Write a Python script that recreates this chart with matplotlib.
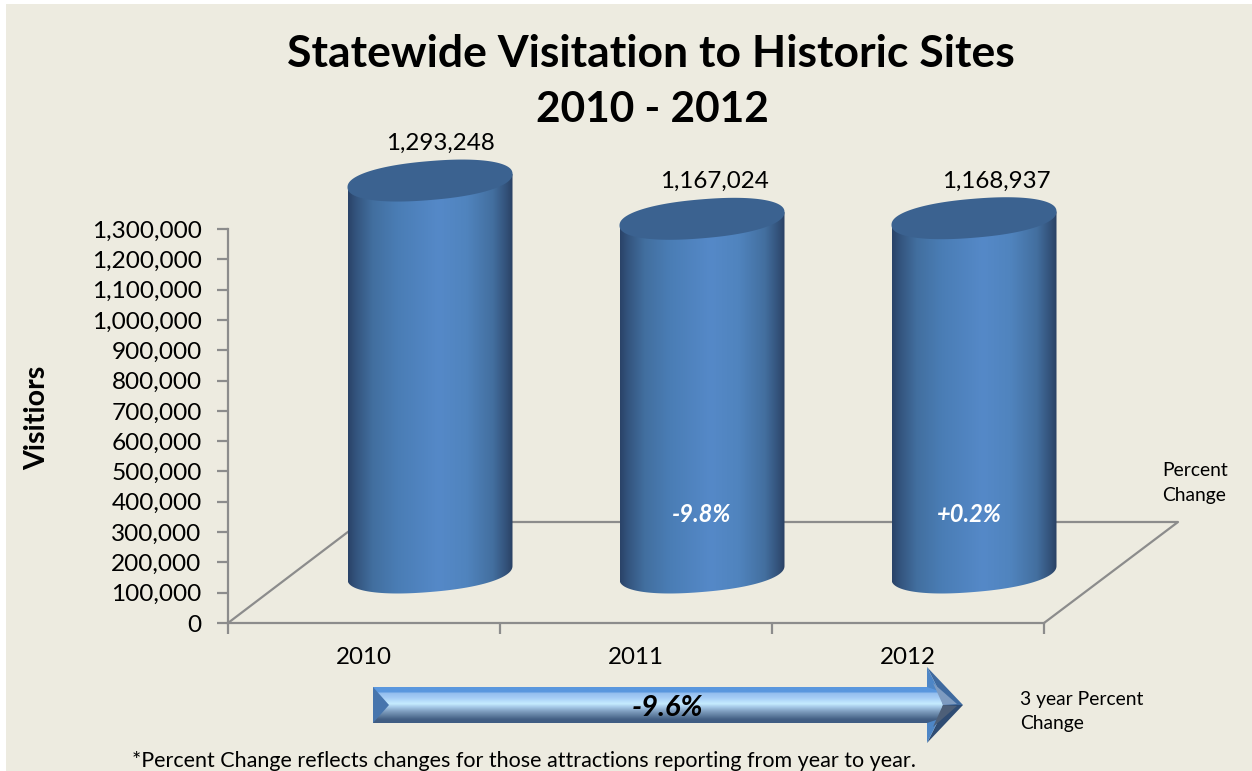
#!/usr/bin/env python3
"""Statewide visitation to historic sites, drawn as 3D-looking cylinders."""

import matplotlib
matplotlib.use('Agg')
import matplotlib.pyplot as plt
import numpy as np
from matplotlib.colors import LinearSegmentedColormap
from matplotlib.patches import Polygon, Rectangle

years = ['2010', '2011', '2012']
visitors = [1293248, 1167024, 1168937]
value_labels = ['1,293,248', '1,167,024', '1,168,937']
percent_change = [None, '-9.8%', '+0.2%']
y_ticks = list(range(0, 1300001, 100000))
three_year_change = '-9.6%'

W, H = 1252, 771
PANEL = '#EDEBE0'
AXIS_GREY = '#8C8C8C'
FONT = 'Lato'

plt.rcParams['font.family'] = [FONT, 'DejaVu Sans']

fig = plt.figure(figsize=(W / 100, H / 100), dpi=100, facecolor='white')

# overlay in pixel units for the panel, notes and the arrow
bg = fig.add_axes([0, 0, 1, 1], zorder=0)
bg.set_xlim(0, W)
bg.set_ylim(H, 0)
bg.axis('off')
bg.add_patch(Rectangle((6, 4), W - 6, H - 4, facecolor=PANEL, edgecolor='none'))

# plot area: 228..1044 px wide, 229..623 px tall
ax = fig.add_axes([228 / W, 1 - 623 / H, 816 / W, 394 / H], zorder=1)
ax.set_xlim(-0.5, 2.5)
ax.set_ylim(0, 1300000)
ax.patch.set_alpha(0)
for side in ['top', 'right']:
    ax.spines[side].set_visible(False)
for side in ['left', 'bottom']:
    ax.spines[side].set_color(AXIS_GREY)
    ax.spines[side].set_linewidth(1.6)

ax.set_yticks(y_ticks)
ax.set_yticklabels([f'{v:,}' for v in y_ticks], fontsize=17.6)
ax.set_xticks([-0.5, 0.5, 1.5, 2.5])
ax.set_xticklabels([])
ax.tick_params(axis='both', color=AXIS_GREY, width=1.6, length=8, pad=12)
ax.tick_params(axis='y', pad=11)

px_x = 3 / 816          # category units per pixel
px_y = 1300000 / 394    # visitors per pixel

# floor drawn behind the cylinders
ax.plot([-0.5, -0.5 + 133 * px_x, 2.5 + 134 * px_x, 2.5],
        [0, 101 * px_y, 101 * px_y, 0],
        color=AXIS_GREY, lw=1.6, clip_on=False, zorder=1)

side_cmap = LinearSegmentedColormap.from_list('side', [
    (0.00, '#2A4368'), (0.05, '#34557F'), (0.15, '#426F9F'), (0.30, '#4A7DB5'),
    (0.55, '#5589C8'), (0.72, '#5084BE'), (0.88, '#436F9F'), (0.96, '#33527A'),
    (1.00, '#2A4164')])
gradient = np.linspace(0, 1, 256).reshape(1, -1)

half_w = 82.5 * px_x
shear = 6.7 * px_y
half_h = 19.5 * px_y
base_dx = 66 * px_x
base_dy = 50.5 * px_y
label_dx = [10, 12, 22]


def rim(angles):
    """Sheared, slightly squared-off ellipse around the origin."""
    c = np.sign(np.cos(angles)) * np.abs(np.cos(angles)) ** 0.9
    s = np.sign(np.sin(angles)) * np.abs(np.sin(angles)) ** 0.9
    return half_w * c, half_h * s + shear * c


t = np.linspace(0, 2 * np.pi, 181)

for i, value in enumerate(visitors):
    cx = i + base_dx
    ex, ey = rim(t)

    # side wall: lower half of the base rim plus the top rim
    lx, ly = rim(t[:91] + np.pi)
    wall = np.column_stack([
        np.r_[cx + lx, cx + half_w, cx - half_w],
        np.r_[base_dy + ly, base_dy + value + shear, base_dy + value - shear]])
    clip = Polygon(wall, closed=True, transform=ax.transData, facecolor='none', edgecolor='none')
    ax.add_patch(clip)
    clip.set_clip_on(False)
    im = ax.imshow(gradient, cmap=side_cmap, aspect='auto', zorder=3,
                   extent=[cx - half_w, cx + half_w, 0, base_dy + value + 2 * half_h])
    # the cylinders stand forward of the axes box, so only the wall outline clips them
    im.set_clip_box(fig.bbox)
    im.set_clip_path(clip)

    # flat top
    ax.fill(cx + ex, base_dy + value + ey, color='#3B6290', lw=0, clip_on=False, zorder=4)

    ax.text(cx + label_dx[i] * px_x, base_dy + value + 37 * px_y, value_labels[i],
            ha='center', va='center', fontsize=17.4, color='black', clip_on=False, zorder=5)
    ax.text(i - 0.5 + 136 * px_x, -35 * px_y, years[i], ha='center', va='center',
            fontsize=17.4, color='black', clip_on=False)
    if percent_change[i]:
        ax.text(cx - (0 if i == 1 else 5 * px_x), 109 * px_y, percent_change[i],
                ha='center', va='center', fontsize=17, color='white',
                fontweight='bold', style='italic', zorder=5)

ax.set_xlim(-0.5, 2.5)
ax.set_ylim(0, 1300000)

# ---- titles and side notes, placed in pixels
bg.text(651, 54, 'Statewide Visitation to Historic Sites', ha='center', va='center',
        fontsize=32, fontweight='bold', color='black')
bg.text(652, 110, '2010 - 2012', ha='center', va='center',
        fontsize=30.5, fontweight='bold', color='black')
bg.text(37, 418, 'Visitiors', rotation=90, ha='center', va='center',
        fontsize=20.5, fontweight='bold', color='black')
for txt, x, y in [('Percent', 1162, 470), ('Change', 1162, 495),
                  ('3 year Percent', 1020, 699), ('Change', 1020, 724)]:
    bg.text(x, y, txt, ha='left', va='center', fontsize=13.9, color='black')
bg.text(132, 761, '*Percent Change reflects changes for those attractions reporting from year to year.',
        ha='left', va='center', fontsize=15.5, color='black')

# ---- bevelled arrow under the chart
arrow_top, arrow_bot = 687, 723
shaft_l, head_x, tip_x = 373, 927, 963
head_top, head_bot, mid_y = 667, 743, 705

shaft_cmap = LinearSegmentedColormap.from_list('shaft', [
    (0.00, '#5A97DE'), (0.14, '#5A97DE'), (0.16, '#93BDEE'), (0.30, '#A6CDF6'),
    (0.46, '#C6ECFF'), (0.56, '#A4C8E6'), (0.68, '#7E9DBE'), (0.80, '#5E7C9E'),
    (0.90, '#435F84'), (1.00, '#3F5C83')])
shaft_img = np.linspace(0, 1, 128).reshape(-1, 1)
bg.imshow(shaft_img, cmap=shaft_cmap, aspect='auto', zorder=2,
          extent=[shaft_l, head_x + 18, arrow_bot, arrow_top])
bg.set_xlim(0, W)
bg.set_ylim(H, 0)

inner = (389, mid_y)
# left bevel
bg.add_patch(Polygon([(shaft_l, arrow_top), inner, (shaft_l, arrow_bot)],
                     facecolor='#4775AD', edgecolor='none', zorder=3))
# head facets
core = (tip_x - 20, mid_y)
bg.add_patch(Polygon([(head_x, head_top), (tip_x, mid_y), core, (head_x + 12, arrow_top + 4)],
                     facecolor='#3F6A9F', edgecolor='none', zorder=3))
bg.add_patch(Polygon([(head_x, head_bot), (tip_x, mid_y), core, (head_x + 12, arrow_bot - 4)],
                     facecolor='#2F4C73', edgecolor='none', zorder=3))
bg.add_patch(Polygon([(head_x, head_top), (head_x + 12, arrow_top + 4), (head_x, arrow_top)],
                     facecolor='#4E86C6', edgecolor='none', zorder=3))
bg.add_patch(Polygon([(head_x, head_bot), (head_x + 12, arrow_bot - 4), (head_x, arrow_bot)],
                     facecolor='#4E86C6', edgecolor='none', zorder=3))
bg.add_patch(Polygon([(head_x + 6, arrow_top - 4), (tip_x - 6, mid_y - 1), core],
                     facecolor='#7E9BC0', edgecolor='none', zorder=3))
bg.add_patch(Polygon([(head_x + 6, arrow_bot + 4), (tip_x - 6, mid_y + 1), core],
                     facecolor='#4D5F78', edgecolor='none', zorder=3))
bg.text(667, 708, three_year_change, ha='center', va='center', fontsize=21,
        fontweight='bold', style='italic', color='black', zorder=4)

fig.savefig('out.png', dpi=100, facecolor='white')
